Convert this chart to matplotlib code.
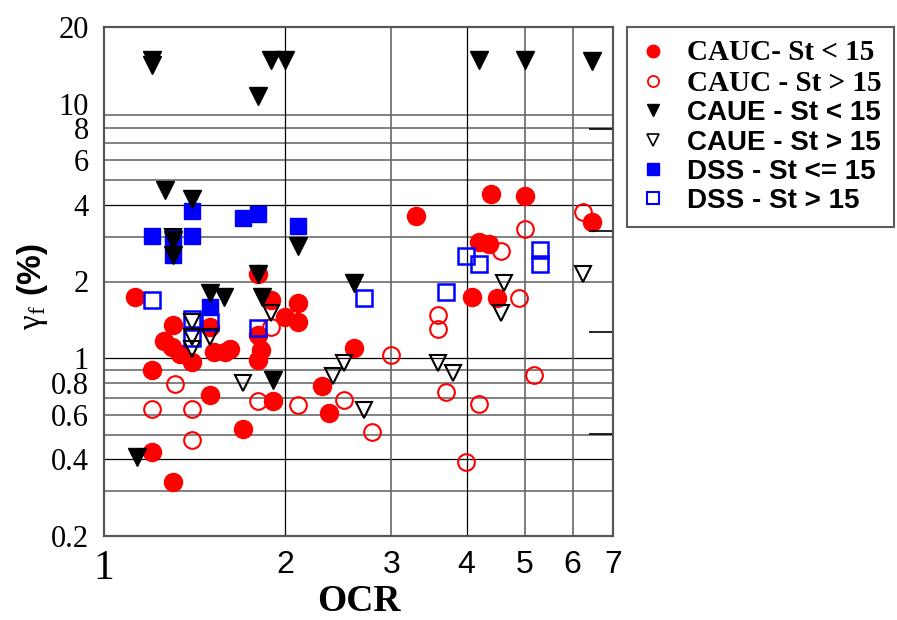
import numpy as np
import matplotlib
matplotlib.use('Agg')
import matplotlib.pyplot as plt
from matplotlib.lines import Line2D

plt.rcParams['mathtext.fontset'] = 'custom'
plt.rcParams['mathtext.rm'] = 'Liberation Serif'
plt.rcParams['mathtext.it'] = 'Liberation Serif:italic'
plt.rcParams['mathtext.bf'] = 'Liberation Sans:bold'

SERIF = 'Liberation Serif'
SANS = 'Liberation Sans'

# CAUC - St < 15 (filled red circles)
cauc_lo_x = [1.126, 1.20, 1.20, 1.26, 1.295, 1.30, 1.30, 1.337, 1.40, 1.50, 1.50, 1.52,
             1.588, 1.62, 1.70, 1.80, 1.80, 1.80, 1.82, 1.897, 1.91, 2.0, 2.10, 2.10,
             2.30, 2.36, 2.60, 3.30, 4.09, 4.19, 4.36, 4.39, 4.49, 5.0, 6.47]
cauc_lo_y = [1.74, 0.90, 0.427, 1.17, 1.11, 1.35, 0.327, 1.04, 0.968, 1.33, 0.716, 1.06,
             1.06, 1.09, 0.526, 2.14, 1.23, 0.98, 1.08, 1.69, 0.68, 1.45, 1.64, 1.39,
             0.777, 0.607, 1.10, 3.63, 1.74, 2.87, 2.81, 4.42, 1.72, 4.35, 3.43]

# CAUC - St > 15 (open red circles)
cauc_hi_x = [1.20, 1.31, 1.40, 1.40, 1.80, 1.897, 2.10, 2.50, 2.79, 3.0, 3.59, 3.59,
             3.70, 3.99, 4.19, 4.56, 4.89, 5.0, 5.18, 6.23]
cauc_hi_y = [0.63, 0.79, 0.63, 0.477, 0.68, 1.33, 0.654, 0.684, 0.514, 1.03, 1.48, 1.30,
             0.734, 0.392, 0.658, 2.64, 1.73, 3.21, 0.858, 3.76]

# CAUE - St < 15 (filled black triangles)
caue_lo_x = [1.133, 1.20, 1.20, 1.263, 1.30, 1.30, 1.40, 1.50, 1.585, 1.80, 1.80, 1.83,
             1.897, 1.91, 2.0, 2.10, 2.60, 4.19, 5.0, 6.47]
caue_lo_y = [0.41, 14.8, 14.2, 4.58, 2.91, 2.54, 4.21, 1.81, 1.74, 10.7, 2.14, 1.74,
             14.9, 0.82, 14.9, 2.76, 1.97, 14.9, 14.9, 14.7]

# CAUE - St > 15 (open black triangles)
caue_hi_x = [1.30, 1.40, 1.40, 1.40, 1.50, 1.70, 1.897, 2.40, 2.50, 2.70, 3.59, 3.79,
             4.56, 4.61, 6.24]
caue_hi_y = [3.0, 1.39, 1.21, 1.09, 1.21, 0.796, 1.50, 0.85, 0.96, 0.625, 0.96, 0.872,
             1.50, 1.98, 2.14]

# DSS - St <= 15 (filled blue squares)
dss_lo_x = [1.20, 1.30, 1.30, 1.40, 1.40, 1.50, 1.70, 1.80, 2.10]
dss_lo_y = [3.03, 2.99, 2.54, 3.02, 3.78, 1.59, 3.54, 3.69, 3.31]

# DSS - St > 15 (open blue squares)
dss_hi_x = [1.20, 1.40, 1.40, 1.50, 1.80, 2.70, 3.70, 3.99, 4.19, 5.29, 5.29]
dss_hi_y = [1.69, 1.42, 1.20, 1.39, 1.31, 1.73, 1.82, 2.52, 2.34, 2.67, 2.34]

x_ticks = [1, 2, 3, 4, 5, 6, 7]
y_ticks = [0.2, 0.4, 0.6, 0.8, 1, 2, 4, 6, 8, 10, 20]
y_tick_labels = ['0.2', '0.4', '0.6', '0.8', '1', '2', '4', '6', '8', '10', '20']

labels = ['CAUC- St < 15', 'CAUC - St > 15', 'CAUE - St < 15',
          'CAUE - St > 15', 'DSS - St <= 15', 'DSS - St > 15']

RED = '#ff0000'
BLUE = '#0000ff'

fig = plt.figure(figsize=(8.97, 6.2), dpi=100)
ax = fig.add_axes([104 / 897, 1 - 536 / 620, 509 / 897, 509 / 620])
ax.set_xscale('log')
ax.set_yscale('log')
ax.set_xlim(1, 7)
ax.set_ylim(0.2, 20)

# grid lines
for v in [0.3, 0.4, 0.5, 0.6, 0.7, 0.8, 0.9, 1, 2, 3, 4, 5, 6, 7, 8, 9]:
    if v in (0.4, 1, 4):
        ax.axhline(v, color='black', lw=0.9, zorder=1)
    else:
        ax.axhline(v, color='#777777', lw=1.3, zorder=1)
for v in [2, 3, 4, 5, 6]:
    if v in (2, 4):
        ax.axvline(v, color='black', lw=0.9, zorder=1)
    else:
        ax.axvline(v, color='#666666', lw=1.2, zorder=1)

# data
ax.plot(cauc_lo_x, cauc_lo_y, 'o', ms=13, mfc=RED, mec=RED, ls='none', zorder=3)
ax.plot(cauc_hi_x, cauc_hi_y, 'o', ms=12, mfc='none', mec=RED, mew=1.5, ls='none', zorder=3)
ax.plot(dss_lo_x, dss_lo_y, 's', ms=12, mfc=BLUE, mec=BLUE, ls='none', zorder=4)
ax.plot(dss_hi_x, dss_hi_y, 's', ms=11, mfc='none', mec=BLUE, mew=1.8, ls='none', zorder=4)
ax.plot(caue_lo_x, caue_lo_y, 'v', ms=13, mfc='black', mec='black', ls='none', zorder=5)
ax.plot(caue_hi_x, caue_hi_y, 'v', ms=12, mfc='none', mec='black', mew=1.5, ls='none', zorder=5)

# ticks
ax.set_xticks(x_ticks)
ax.set_xticklabels([str(t) for t in x_ticks])
ax.set_yticks(y_ticks)
ax.set_yticklabels(y_tick_labels)
ax.set_xticks([1], minor=True)
ax.set_yticks([1, 10], minor=True)
ax.xaxis.set_minor_formatter(plt.NullFormatter())
ax.yaxis.set_minor_formatter(plt.NullFormatter())
ax.tick_params(which='major', length=0)
ax.tick_params(axis='x', which='major', pad=10)
ax.tick_params(axis='y', which='major', pad=11)
ax.tick_params(which='minor', direction='in', length=18, width=1.2, color='black')
for lab in ax.get_yticklabels():
    lab.set_fontfamily(SERIF)
    lab.set_fontsize(22)
for lab in ax.get_xticklabels():
    lab.set_fontfamily(SANS)
    lab.set_fontsize(23)
xl = ax.get_xticklabels()
xl[0].set_fontfamily(SERIF)
xl[0].set_fontsize(30)

ax2 = ax.twinx()
ax2.set_yscale('log')
ax2.set_ylim(0.2, 20)
ax2.set_yticks([0.2 * 10 ** (0.4 * k) for k in range(6)])
ax2.yaxis.set_major_formatter(plt.NullFormatter())
ax2.yaxis.set_minor_locator(plt.NullLocator())
ax2.tick_params(direction='in', length=17, width=1.2, color='black')

for a in (ax, ax2):
    for s in a.spines.values():
        s.set_color('#555555')
        s.set_linewidth(1.5)

ax.set_xlabel('OCR', fontfamily=SERIF, fontweight='bold', fontsize=27)
ax.xaxis.set_label_coords(0.5, -0.128, transform=ax.transAxes)
ax.xaxis.label.set_va('center')
ax.set_ylabel(r'$\mathrm{\gamma_f}$ $\mathbf{(\%)}$', fontsize=24)
ax.yaxis.set_label_coords(-0.14, 0.49)
ax.yaxis.label.set_va('center')

# legend
handles = [
    Line2D([], [], marker='o', ls='none', ms=9, mfc=RED, mec=RED),
    Line2D([], [], marker='o', ls='none', ms=8, mfc='none', mec=RED, mew=1.3),
    Line2D([], [], marker='v', ls='none', ms=8, mfc='black', mec='black'),
    Line2D([], [], marker='v', ls='none', ms=8, mfc='none', mec='black', mew=1.2),
    Line2D([], [], marker='s', ls='none', ms=8, mfc=BLUE, mec=BLUE),
    Line2D([], [], marker='s', ls='none', ms=8, mfc='none', mec=BLUE, mew=1.5),
]
leg = fig.legend(handles, labels, loc='upper left',
                 bbox_to_anchor=(627 / 897, 1 - 27 / 620),
                 frameon=True, fancybox=False, edgecolor='#333333',
                 prop={'family': SANS, 'weight': 'bold', 'size': 20},
                 labelspacing=0.12, handlelength=1.0, handletextpad=0.7,
                 borderpad=0.45, borderaxespad=0)
leg.get_frame().set_linewidth(1.5)
for i, t in enumerate(leg.get_texts()):
    if i < 2:
        t.set_fontfamily(SERIF)
        t.set_fontsize(21)

fig.savefig('out.png', dpi=100)
